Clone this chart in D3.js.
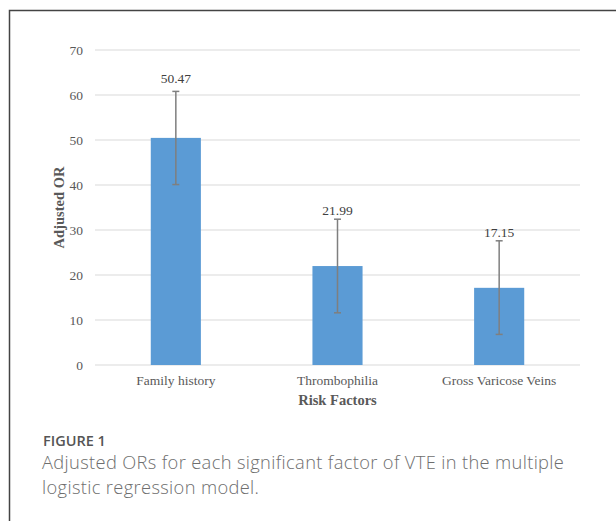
<!DOCTYPE html>
<html>
<head>
<meta charset="utf-8">
<script src="https://cdn.jsdelivr.net/npm/d3@7"></script>
<style>
  body { margin: 0; background: #fff; }
  svg { display: block; }
</style>
</head>
<body>
<div id="chart"></div>
<script>
// values
const factors = ['Family history', 'Thrombophilia', 'Gross Varicose Veins'];
const adjustedOR = [50.47, 21.99, 17.15];
const errUpper = [60.8, 32.4, 27.6];
const errLower = [40.1, 11.6, 6.8];
const yTicks = [0, 10, 20, 30, 40, 50, 60, 70];

const W = 616, H = 521;
const margin = { left: 95, right: 36, top: 50, bottom: 156 };
const TEXT = '#595959';
const SERIF = '"Liberation Serif", "Times New Roman", serif';

const svg = d3.select('#chart')
  .append('svg')
  .attr('width', W)
  .attr('height', H);

// figure frame (left and top edges only are visible)
svg.append('path')
  .attr('d', `M9.5,${H} V10.5 H${W}`)
  .attr('fill', 'none')
  .attr('stroke', '#444')
  .attr('stroke-width', 1.5);

const x = d3.scaleBand()
  .domain(factors)
  .range([margin.left, W - margin.right])
  .paddingInner(0.69)
  .paddingOuter(0.345);

const y = d3.scaleLinear()
  .domain([0, 70])
  .range([H - margin.bottom, margin.top]);

// gridlines
svg.append('g')
  .selectAll('line')
  .data(yTicks)
  .enter()
  .append('line')
  .attr('x1', margin.left)
  .attr('x2', W - margin.right)
  .attr('y1', d => y(d))
  .attr('y2', d => y(d))
  .attr('stroke', '#d9d9d9')
  .attr('stroke-width', 1);

// y axis tick labels
const yAxis = d3.axisLeft(y).tickValues(yTicks).tickSize(0).tickPadding(12);
svg.append('g')
  .attr('transform', `translate(${margin.left},0)`)
  .call(yAxis)
  .call(g => g.select('.domain').remove())
  .selectAll('text')
  .attr('fill', TEXT)
  .style('font-family', SERIF)
  .style('font-size', '13.5px');

// x axis category labels
const xAxis = d3.axisBottom(x).tickSize(0).tickPadding(10);
svg.append('g')
  .attr('transform', `translate(0,${y(0)})`)
  .call(xAxis)
  .call(g => g.select('.domain').remove())
  .selectAll('text')
  .attr('fill', TEXT)
  .style('font-family', SERIF)
  .style('font-size', '13.5px');

// bars
svg.append('g')
  .selectAll('rect')
  .data(factors)
  .enter()
  .append('rect')
  .attr('x', d => x(d))
  .attr('y', (d, i) => y(adjustedOR[i]))
  .attr('width', x.bandwidth())
  .attr('height', (d, i) => y(0) - y(adjustedOR[i]))
  .attr('fill', '#5b9bd5');

// error bars
const CAP = 3.5;
const err = svg.append('g')
  .attr('stroke', '#7f7f7f')
  .attr('stroke-width', 1.5);
factors.forEach((f, i) => {
  const cx = x(f) + x.bandwidth() / 2;
  err.append('line')
    .attr('x1', cx).attr('x2', cx)
    .attr('y1', y(errUpper[i])).attr('y2', y(errLower[i]));
  [errUpper[i], errLower[i]].forEach(v => {
    err.append('line')
      .attr('x1', cx - CAP).attr('x2', cx + CAP)
      .attr('y1', y(v)).attr('y2', y(v));
  });
});

// data labels, placed at a fixed distance above each bar
svg.append('g')
  .selectAll('text')
  .data(factors)
  .enter()
  .append('text')
  .attr('x', d => x(d) + x.bandwidth() / 2)
  .attr('y', (d, i) => y(adjustedOR[i]) - (i === 0 ? 55 : 51))
  .attr('text-anchor', 'middle')
  .attr('fill', '#404040')
  .style('font-family', SERIF)
  .style('font-size', '13.5px')
  .text((d, i) => d3.format('.2f')(adjustedOR[i]));

// axis titles
svg.append('text')
  .attr('x', (margin.left + W - margin.right) / 2)
  .attr('y', y(0) + 40)
  .attr('text-anchor', 'middle')
  .attr('fill', TEXT)
  .style('font-family', SERIF)
  .style('font-size', '14.5px')
  .style('font-weight', 'bold')
  .text('Risk Factors');

svg.append('text')
  .attr('transform', `translate(64,${(y(0) + y(70)) / 2}) rotate(-90)`)
  .attr('text-anchor', 'middle')
  .attr('fill', TEXT)
  .style('font-family', SERIF)
  .style('font-size', '14.5px')
  .style('font-weight', 'bold')
  .text('Adjusted OR');

// caption
svg.append('text')
  .attr('x', 43)
  .attr('y', 446)
  .attr('fill', '#555')
  .style('font-family', '"Open Sans", sans-serif')
  .style('font-size', '14.5px')
  .style('font-weight', 600)
  .text('FIGURE 1');

const caption = ['Adjusted ORs for each significant factor of VTE in the multiple',
  'logistic regression model.'];
svg.append('g')
  .selectAll('text')
  .data(caption)
  .enter()
  .append('text')
  .attr('x', 42)
  .attr('y', (d, i) => 469 + i * 25)
  .attr('fill', '#6e6e6e')
  .style('font-family', '"Open Sans", sans-serif')
  .style('font-size', '18.3px')
  .style('font-weight', 300)
  .style('letter-spacing', '0.35px')
  .text(d => d);
</script>
</body>
</html>
